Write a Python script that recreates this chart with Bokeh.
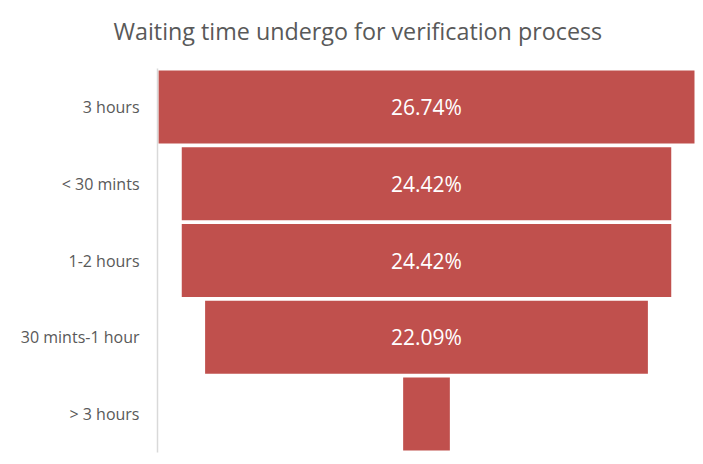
from bokeh.plotting import figure
from bokeh.models import FactorRange, ColumnDataSource, Range1d, Title
from bokeh.core.properties import value
from bokeh.embed import file_html
from bokeh.resources import INLINE

categories = ["3 hours", "< 30 mints", "1-2 hours", "30 mints-1 hour", "> 3 hours"]
percents = [26.74, 24.42, 24.42, 22.09, 2.33]
labels = ["26.74%", "24.42%", "24.42%", "22.09%", ""]
title_text = "Waiting time undergo for verification process"

src = ColumnDataSource(dict(
    cat=categories,
    left=[-v / 2 for v in percents],
    right=[v / 2 for v in percents],
    label=labels,
    zero=[0] * len(percents),
))

p = figure(width=703, height=464, output_backend="svg", toolbar_location=None,
           title=None,
           y_range=FactorRange(*reversed(categories), range_padding=0),
           x_range=Range1d(-13.42, 13.42),
           x_axis_location=None,
           min_border_left=157, min_border_right=8, min_border_top=68, min_border_bottom=12)

p.hbar(y="cat", left="left", right="right", height=0.95, source=src,
       fill_color="#c0504d", line_color=None)
p.text(x="zero", y="cat", text="label", source=src, text_color="white",
       text_font=value("Open Sans"), text_font_size="21px",
       text_align="center", text_baseline="middle")

# blank spacer between the frame and the title
spacer = Title(text="M", text_font="Open Sans", text_font_size="15px",
               text_color="white", standoff=0)
p.add_layout(spacer, "above")
main_title = Title(text=title_text, text_font="Open Sans", text_font_size="23.3px",
                   text_font_style="normal", text_color="#595959",
                   align="left", offset=-44, standoff=0, vertical_align="bottom")
p.add_layout(main_title, "above")

ax = p.yaxis[0]
ax.axis_line_color = "#d9d9d9"
ax.axis_line_width = 1.5
ax.major_tick_line_color = None
ax.minor_tick_line_color = None
ax.major_label_standoff = 12
ax.major_label_text_font = "Open Sans"
ax.major_label_text_font_size = "16px"
ax.major_label_text_color = "#595959"

p.xgrid.visible = False
p.ygrid.visible = False
p.outline_line_color = None
p.background_fill_color = "white"
p.border_fill_color = "white"

open("out.html", "w").write(file_html(p, INLINE))
